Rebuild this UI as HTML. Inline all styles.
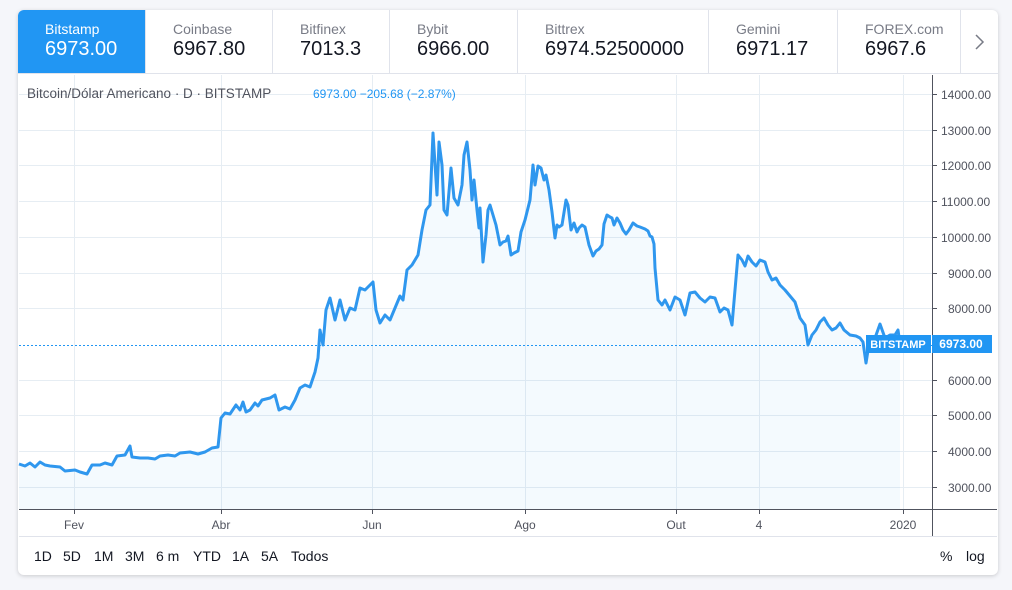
<!DOCTYPE html>
<html><head><meta charset="utf-8"><style>
html,body{margin:0;padding:0;background:#f5f6fa;width:1012px;height:590px;overflow:hidden;font-family:"Liberation Sans","DejaVu Sans",sans-serif}
.card{position:absolute;left:18px;top:10px;width:980px;height:565px;background:#fff;border-radius:6px;box-shadow:0 1px 4px rgba(0,0,0,.18);overflow:hidden}
.tab{position:absolute;top:0;height:64px;border-right:1px solid #e0e3eb;box-sizing:border-box;padding-left:27px}
.tab .n{position:absolute;top:11px;font-size:14px;color:#787b86}
.tab .v{position:absolute;top:28px;font-size:20px;color:#131722}
.tab.a{background:#2196f3}
.tab.a .n,.tab.a .v{color:#fff}
.tb span{position:absolute;top:548px;font-size:14px;color:#131722}
</style></head><body>
<div class="card">
<div class="tab a" style="left:0;width:128px"><div class="n">Bitstamp</div><div class="v">6973.00</div></div>
<div class="tab" style="left:128px;width:127px"><div class="n">Coinbase</div><div class="v">6967.80</div></div>
<div class="tab" style="left:255px;width:117px"><div class="n">Bitfinex</div><div class="v">7013.3</div></div>
<div class="tab" style="left:372px;width:128px"><div class="n">Bybit</div><div class="v">6966.00</div></div>
<div class="tab" style="left:500px;width:191px"><div class="n">Bittrex</div><div class="v">6974.52500000</div></div>
<div class="tab" style="left:691px;width:129px"><div class="n">Gemini</div><div class="v">6971.17</div></div>
<div class="tab" style="left:820px;width:123px"><div class="n">FOREX.com</div><div class="v">6967.6</div></div>
<div style="position:absolute;left:943px;top:0;width:37px;height:64px;border-bottom:1px solid #e0e3eb;box-sizing:border-box"></div>
<div style="position:absolute;left:0;top:63px;width:980px;height:1px;background:#e0e3eb"></div>
</div>
<svg width="1012" height="590" style="position:absolute;left:0;top:0">
<g stroke="#e6edf3" stroke-width="1">
<line x1="19" x2="932" y1="94.5" y2="94.5"/><line x1="19" x2="932" y1="130.5" y2="130.5"/><line x1="19" x2="932" y1="165.5" y2="165.5"/><line x1="19" x2="932" y1="201.5" y2="201.5"/><line x1="19" x2="932" y1="237.5" y2="237.5"/><line x1="19" x2="932" y1="273.5" y2="273.5"/><line x1="19" x2="932" y1="308.5" y2="308.5"/><line x1="19" x2="932" y1="380.5" y2="380.5"/><line x1="19" x2="932" y1="415.5" y2="415.5"/><line x1="19" x2="932" y1="451.5" y2="451.5"/><line x1="19" x2="932" y1="487.5" y2="487.5"/>
<line x1="74.5" x2="74.5" y1="75" y2="509"/><line x1="221.5" x2="221.5" y1="75" y2="509"/><line x1="372.5" x2="372.5" y1="75" y2="509"/><line x1="525.5" x2="525.5" y1="75" y2="509"/><line x1="676.5" x2="676.5" y1="75" y2="509"/><line x1="759.5" x2="759.5" y1="75" y2="509"/><line x1="903.5" x2="903.5" y1="75" y2="509"/>
</g>
<polygon fill="#2196f3" fill-opacity="0.05" points="19,509 19,464 25,466 30,463 35,467 40,462 45,465 50,466 60,467 65,471 75,470 80,472 87,474 92,465 100,465 105,463 112,465 117,456 125,455 130,446 132,457 140,458 148,458 155,459 160,456 168,455 175,456 180,453 190,452 198,454 205,452 212,448 218,447 221,418 225,413 230,414 236,405 240,410 243,402 246,412 250,410 255,403 258,406 262,400 270,398 275,395 279,410 285,407 290,409 295,400 300,388 305,385 310,387 315,372 318,358 320,330 323,345 326,310 330,298 335,320 340,300 345,320 350,308 355,310 360,288 365,290 370,285 373,282 376,310 380,323 385,315 390,320 395,308 400,296 403,300 407,270 412,265 418,255 422,230 426,210 430,205 433,133 437,195 439,142 442,165 444,210 447,215 451,168 454,198 458,205 462,185 464,155 467,142 470,170 472,200 474,180 477,210 479,228 480,208 483,262 486,235 488,210 490,205 493,215 496,225 500,245 503,242 506,241 508,236 511,255 514,253 518,251 521,232 525,220 530,200 533,165 535,185 538,166 541,168 544,180 546,175 549,190 552,212 555,238 557,225 559,227 562,225 566,200 568,205 571,230 574,223 577,232 579,228 582,225 585,227 589,245 593,256 596,251 599,249 602,245 604,224 607,215 610,217 612,218 614,225 617,218 620,223 623,230 626,234 629,230 633,223 637,226 640,227 645,229 648,231 650,236 652,237 654,244 655,268 658,300 662,305 665,300 670,310 675,297 680,300 685,315 690,293 695,292 700,298 705,302 710,297 715,298 720,312 724,308 728,310 732,325 735,290 738,255 742,260 745,266 748,256 752,262 756,266 760,260 765,262 768,272 772,280 776,278 780,285 785,290 790,296 795,302 800,318 805,325 808,345 812,335 816,330 820,322 824,318 828,325 832,330 836,328 840,323 844,330 850,335 856,336 860,338 863,342 866,363 870,338 875,338 880,324 885,338 890,335 895,335 898,330 900,344 900,509"/>
<line x1="19" x2="932" y1="345.5" y2="345.5" stroke="#2196f3" stroke-dasharray="2,2" stroke-width="1"/>
<polyline fill="none" stroke="#2f97ee" stroke-width="3" stroke-linejoin="round" points="19,464 25,466 30,463 35,467 40,462 45,465 50,466 60,467 65,471 75,470 80,472 87,474 92,465 100,465 105,463 112,465 117,456 125,455 130,446 132,457 140,458 148,458 155,459 160,456 168,455 175,456 180,453 190,452 198,454 205,452 212,448 218,447 221,418 225,413 230,414 236,405 240,410 243,402 246,412 250,410 255,403 258,406 262,400 270,398 275,395 279,410 285,407 290,409 295,400 300,388 305,385 310,387 315,372 318,358 320,330 323,345 326,310 330,298 335,320 340,300 345,320 350,308 355,310 360,288 365,290 370,285 373,282 376,310 380,323 385,315 390,320 395,308 400,296 403,300 407,270 412,265 418,255 422,230 426,210 430,205 433,133 437,195 439,142 442,165 444,210 447,215 451,168 454,198 458,205 462,185 464,155 467,142 470,170 472,200 474,180 477,210 479,228 480,208 483,262 486,235 488,210 490,205 493,215 496,225 500,245 503,242 506,241 508,236 511,255 514,253 518,251 521,232 525,220 530,200 533,165 535,185 538,166 541,168 544,180 546,175 549,190 552,212 555,238 557,225 559,227 562,225 566,200 568,205 571,230 574,223 577,232 579,228 582,225 585,227 589,245 593,256 596,251 599,249 602,245 604,224 607,215 610,217 612,218 614,225 617,218 620,223 623,230 626,234 629,230 633,223 637,226 640,227 645,229 648,231 650,236 652,237 654,244 655,268 658,300 662,305 665,300 670,310 675,297 680,300 685,315 690,293 695,292 700,298 705,302 710,297 715,298 720,312 724,308 728,310 732,325 735,290 738,255 742,260 745,266 748,256 752,262 756,266 760,260 765,262 768,272 772,280 776,278 780,285 785,290 790,296 795,302 800,318 805,325 808,345 812,335 816,330 820,322 824,318 828,325 832,330 836,328 840,323 844,330 850,335 856,336 860,338 863,342 866,363 870,338 875,338 880,324 885,338 890,335 895,335 898,330 900,344"/>
<line x1="932.5" x2="932.5" y1="75" y2="536" stroke="#50535e"/>
<line x1="19" x2="997" y1="509.5" y2="509.5" stroke="#50535e"/>
<line x1="19" x2="997" y1="536.5" y2="536.5" stroke="#e0e3eb"/>
<g stroke="#50535e"><line x1="932" x2="937" y1="94.5" y2="94.5"/><line x1="932" x2="937" y1="130.5" y2="130.5"/><line x1="932" x2="937" y1="165.5" y2="165.5"/><line x1="932" x2="937" y1="201.5" y2="201.5"/><line x1="932" x2="937" y1="237.5" y2="237.5"/><line x1="932" x2="937" y1="273.5" y2="273.5"/><line x1="932" x2="937" y1="308.5" y2="308.5"/><line x1="932" x2="937" y1="380.5" y2="380.5"/><line x1="932" x2="937" y1="415.5" y2="415.5"/><line x1="932" x2="937" y1="451.5" y2="451.5"/><line x1="932" x2="937" y1="487.5" y2="487.5"/>
<line x1="74.5" x2="74.5" y1="509" y2="514"/><line x1="221.5" x2="221.5" y1="509" y2="514"/><line x1="372.5" x2="372.5" y1="509" y2="514"/><line x1="525.5" x2="525.5" y1="509" y2="514"/><line x1="676.5" x2="676.5" y1="509" y2="514"/><line x1="759.5" x2="759.5" y1="509" y2="514"/><line x1="903.5" x2="903.5" y1="509" y2="514"/></g>
<g font-size="12" fill="#50535e" font-family="Liberation Sans,sans-serif">
<text x="941" y="99">14000.00</text><text x="941" y="135">13000.00</text><text x="941" y="170">12000.00</text><text x="941" y="206">11000.00</text><text x="941" y="242">10000.00</text><text x="948" y="278">9000.00</text><text x="948" y="313">8000.00</text><text x="948" y="385">6000.00</text><text x="948" y="420">5000.00</text><text x="948" y="456">4000.00</text><text x="948" y="492">3000.00</text>
<g text-anchor="middle"><text x="74" y="529">Fev</text><text x="221" y="529">Abr</text><text x="372" y="529">Jun</text><text x="525" y="529">Ago</text><text x="676" y="529">Out</text><text x="759" y="529">4</text><text x="903" y="529">2020</text></g>
</g>
<rect x="866" y="335" width="65" height="18" fill="#2196f3"/><rect x="932" y="335" width="60" height="18" fill="#2196f3"/>
<text x="898" y="348" text-anchor="middle" font-size="11" font-weight="bold" fill="#fff" font-family="Liberation Sans,sans-serif">BITSTAMP</text>
<text x="961" y="348" text-anchor="middle" font-size="12" font-weight="bold" fill="#fff" font-family="Liberation Sans,sans-serif">6973.00</text>
<text x="27" y="98" font-size="13.5" fill="#50535e" font-family="Liberation Sans,sans-serif">Bitcoin/Dólar Americano · D · BITSTAMP</text>
<text x="313" y="98" font-size="12" fill="#2196f3" font-family="Liberation Sans,sans-serif">6973.00  −205.68 (−2.87%)</text>
<polyline points="976,35 983,42 976,49" fill="none" stroke="#787b86" stroke-width="1.5"/>
</svg>
<div class="tb">
<span style="left:34px">1D</span><span style="left:63px">5D</span><span style="left:94px">1M</span><span style="left:125px">3M</span><span style="left:156px">6 m</span><span style="left:193px">YTD</span><span style="left:232px">1A</span><span style="left:261px">5A</span><span style="left:291px">Todos</span>
<span style="left:940px">%</span><span style="left:966px">log</span>
</div>
</body></html>
